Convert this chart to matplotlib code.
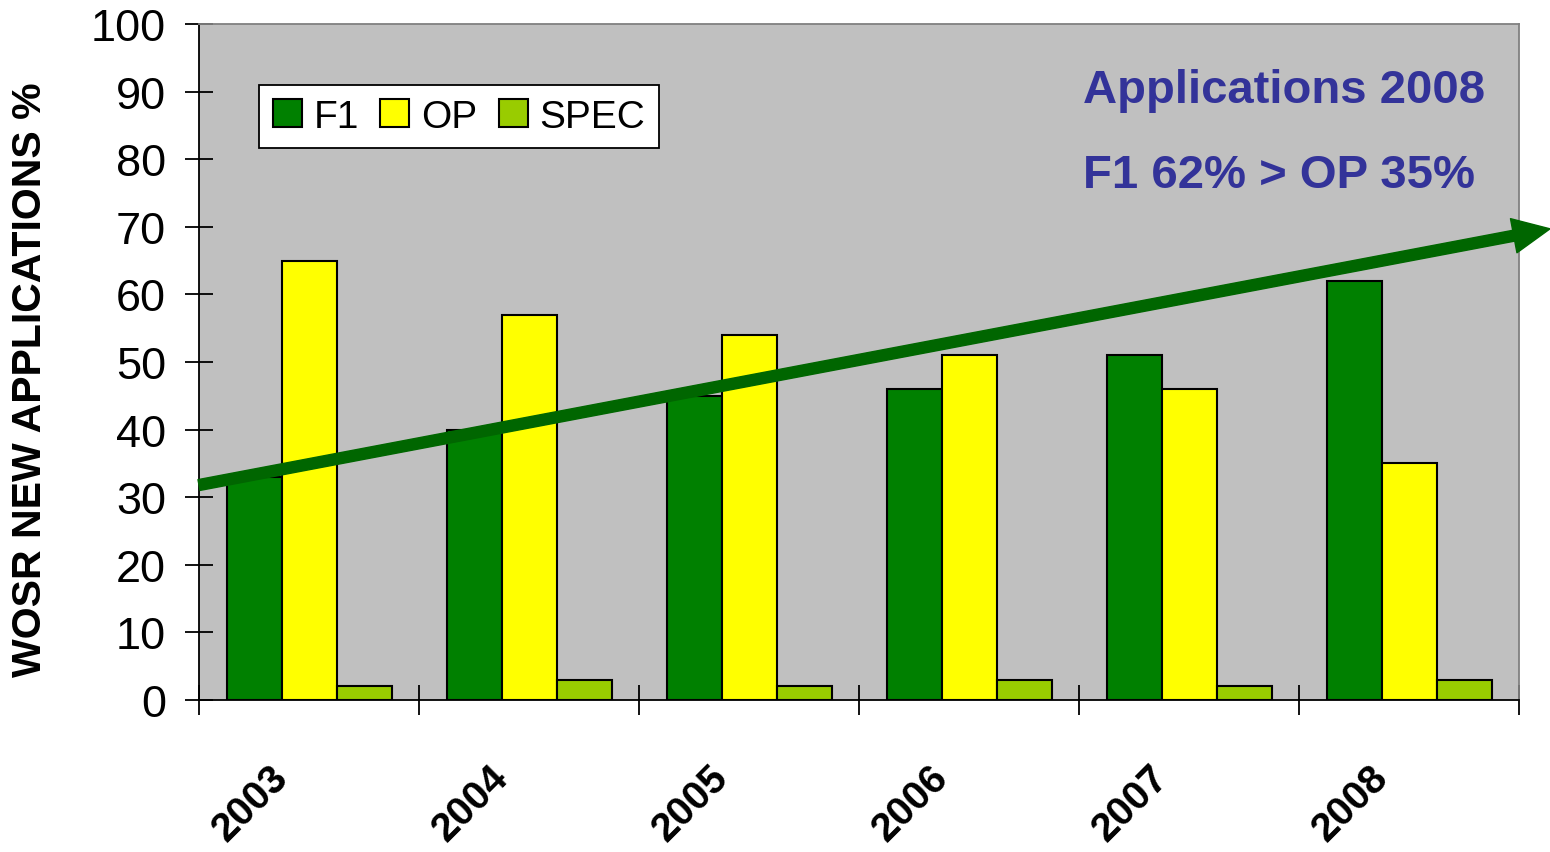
import numpy as np
import matplotlib
matplotlib.use("Agg")
import matplotlib.pyplot as plt
from matplotlib.patches import FancyArrowPatch
from matplotlib.transforms import ScaledTranslation

plt.rcParams['font.family'] = ['Liberation Sans', 'DejaVu Sans']

years = ['2003', '2004', '2005', '2006', '2007', '2008']
f1 = [33, 40, 45, 46, 51, 62]
op = [65, 57, 54, 51, 46, 35]
spec = [2, 3, 2, 3, 2, 3]
series_names = ['F1', 'OP', 'SPEC']
series_colors = ['#008000', '#FFFF00', '#99CC00']
trend_start = 31.8
trend_end = 69.7

fig = plt.figure(figsize=(15.5, 8.53), dpi=100)
ax = fig.add_axes([199 / 1550, 152 / 853, 1320 / 1550, 676 / 853])
ax.set_facecolor('#C0C0C0')

x = np.arange(len(years))
w = 0.25
for i, (vals, name, col) in enumerate(zip([f1, op, spec], series_names, series_colors)):
    ax.bar(x + (i - 1) * w, vals, w, color=col, edgecolor='black', linewidth=1.5,
           label=name, zorder=2)

ax.set_xlim(-0.5, 5.5)
ax.set_ylim(0, 100)
ax.set_yticks(range(0, 101, 10))
ax.tick_params(axis='y', direction='inout', length=19.5, width=1.3, labelsize=32.5, pad=14)

# category boundaries carry the tick marks, labels sit at centres
ax.set_xticks(np.arange(-0.5, 6, 1))
ax.set_xticklabels([])
ax.tick_params(axis='x', which='major', direction='inout', length=21.5, width=1.3)
ax.set_xticks(x, minor=True)
ax.set_xticklabels(years, minor=True, rotation=45, ha='right', va='center',
                   rotation_mode='anchor', fontsize=29, fontweight='bold')
ax.tick_params(axis='x', which='minor', length=0, pad=51)
shift = ScaledTranslation(-27 / 100, 0, fig.dpi_scale_trans)
for lab in ax.get_xticklabels(minor=True):
    lab.set_transform(lab.get_transform() + shift)

for s in ['left', 'bottom']:
    ax.spines[s].set_color('black')
    ax.spines[s].set_linewidth(1.3)
for s in ['top', 'right']:
    ax.spines[s].set_color('#808080')
    ax.spines[s].set_linewidth(1.3)

ax.set_ylabel('WOSR NEW APPLICATIONS %', fontsize=29.5, fontweight='bold')
ax.yaxis.set_label_coords(-0.114, 0.476)

leg = ax.legend(loc='upper left', bbox_to_anchor=(0.0455, 0.9095), borderaxespad=0,
                ncol=3, fontsize=28, frameon=True, fancybox=False, framealpha=1,
                edgecolor='black', handlelength=0.75, handleheight=0.75,
                handletextpad=0.3, columnspacing=0.55, borderpad=0.35)
leg.get_frame().set_linewidth(1.3)

ax.text(3.52, 90.2, 'Applications 2008', fontsize=34, fontweight='bold',
        color='#333399', ha='left', va='center')
ax.text(3.52, 77.6, 'F1 62% > OP 35%', fontsize=34, fontweight='bold',
        color='#333399', ha='left', va='center')

# trend arrow running past the right edge of the plot
trans = ax.get_yaxis_transform()
arrow = FancyArrowPatch((0, trend_start), (1.0235, trend_end), transform=trans,
                        arrowstyle='simple,head_length=26.6,head_width=25,tail_width=7.9',
                        mutation_scale=1, color='#006600', shrinkA=0, shrinkB=0,
                        clip_on=False, zorder=5)
ax.add_patch(arrow)

fig.savefig('out.png', dpi=100)
